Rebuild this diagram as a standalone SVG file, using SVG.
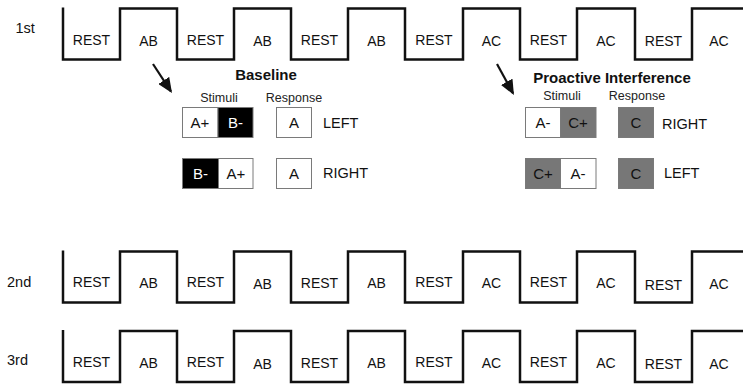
<svg xmlns="http://www.w3.org/2000/svg" width="743" height="385" viewBox="0 0 743 385">
  <style>
    text { font-family: "Liberation Sans", Arial, sans-serif; fill: #111; }
    .blk { font-size: 14px; text-anchor: middle; }
    .run { font-size: 14.5px; }
    .wave { fill: none; stroke: #111; stroke-width: 2.5; stroke-linejoin: miter; }
    .title { font-size: 15px; font-weight: bold; text-anchor: middle; }
    .sub { font-size: 12.5px; text-anchor: middle; fill: #222; }
    .cell { stroke: #7a7a7a; stroke-width: 1; }
    .w { fill: #fff; }
    .k { fill: #000; }
    .g { fill: #777; }
    .lab { font-size: 15px; text-anchor: middle; }
    .lab.inv { fill: #fff; }
    .resp { font-size: 14.5px; }
    .arrow { stroke: #111; stroke-width: 2.2; fill: none; marker-end: url(#head); }
  </style>
  <defs>
    <marker id="head" viewBox="0 0 15 13" refX="13" refY="6.5" markerWidth="15" markerHeight="13" orient="auto" markerUnits="userSpaceOnUse">
      <path d="M0,0 L15,6.5 L0,13 z" fill="#111"/>
    </marker>
    <path id="wavePath" d="M63,0 V52 H120 V1 H177 V52 H234 V1 H291 V52 H348 V1 H405 V52 H463 V1 H520 V52 H577 V1 H635 V52 H692 V1 H745"/>
  </defs>

  <rect width="743" height="385" fill="#fff"/>

  <!-- Run 1 -->
  <g id="run1">
    <text class="run" x="15.5" y="33">1st</text>
    <use href="#wavePath" class="wave" transform="translate(0,7.5)"/>
    <g class="blk">
      <text x="91.5" y="45">REST</text><text x="148.5" y="46">AB</text>
      <text x="205.5" y="45">REST</text><text x="262.5" y="46">AB</text>
      <text x="319.5" y="45">REST</text><text x="376.5" y="46">AB</text>
      <text x="434" y="45">REST</text><text x="491.5" y="46">AC</text>
      <text x="548.5" y="45">REST</text><text x="606" y="46">AC</text>
      <text x="663.5" y="46">REST</text><text x="719" y="46">AC</text>
    </g>
  </g>

  <!-- Run 2 -->
  <g id="run2">
    <text class="run" x="7" y="287">2nd</text>
    <use href="#wavePath" class="wave" transform="translate(0,250.5)"/>
    <g class="blk">
      <text x="91.5" y="287">REST</text><text x="148.5" y="288">AB</text>
      <text x="205.5" y="287">REST</text><text x="262.5" y="289">AB</text>
      <text x="319.5" y="288">REST</text><text x="376.5" y="288">AB</text>
      <text x="434" y="287">REST</text><text x="491.5" y="288">AC</text>
      <text x="548.5" y="287">REST</text><text x="606" y="288">AC</text>
      <text x="663.5" y="290">REST</text><text x="719" y="289">AC</text>
    </g>
  </g>

  <!-- Run 3 -->
  <g id="run3">
    <text class="run" x="7" y="365">3rd</text>
    <use href="#wavePath" class="wave" transform="translate(0,330)"/>
    <g class="blk">
      <text x="91.5" y="367">REST</text><text x="148.5" y="368">AB</text>
      <text x="205.5" y="367">REST</text><text x="262.5" y="369">AB</text>
      <text x="319.5" y="368">REST</text><text x="376.5" y="368">AB</text>
      <text x="434" y="367">REST</text><text x="491.5" y="368">AC</text>
      <text x="548.5" y="367">REST</text><text x="606" y="368">AC</text>
      <text x="663.5" y="369">REST</text><text x="719" y="369">AC</text>
    </g>
  </g>

  <!-- Connectors from trial blocks to their conditions -->
  <g id="connectors">
    <line class="arrow" x1="153" y1="64" x2="170.9" y2="91.3"/>
    <line class="arrow" x1="497" y1="64" x2="513" y2="93.2"/>
  </g>

  <!-- Baseline condition -->
  <g id="baseline">
    <text class="title" x="266" y="80">Baseline</text>
    <text class="sub" x="219" y="102">Stimuli</text>
    <text class="sub" x="294" y="102">Response</text>
    <rect class="cell w" x="182.5" y="107.5" width="35.5" height="30"/>
    <rect class="cell k" x="218" y="107.5" width="35" height="30"/>
    <text class="lab" x="200" y="128">A+</text>
    <text class="lab inv" x="235.5" y="128">B-</text>
    <rect class="cell w" x="276.5" y="107.5" width="35" height="30"/>
    <text class="lab" x="294" y="128">A</text>
    <text class="resp" x="323" y="128">LEFT</text>

    <rect class="cell k" x="182.5" y="158.5" width="36" height="30"/>
    <rect class="cell w" x="218.5" y="158.5" width="34.5" height="30"/>
    <text class="lab inv" x="200.5" y="179">B-</text>
    <text class="lab" x="236" y="179">A+</text>
    <rect class="cell w" x="276.5" y="158.5" width="35" height="30"/>
    <text class="lab" x="294" y="179">A</text>
    <text class="resp" x="323" y="178">RIGHT</text>
  </g>

  <!-- Proactive interference condition -->
  <g id="proactive">
    <text class="title" x="612" y="83">Proactive Interference</text>
    <text class="sub" x="562" y="100">Stimuli</text>
    <text class="sub" x="637" y="100">Response</text>
    <rect class="cell w" x="525.5" y="107.5" width="35" height="30"/>
    <rect class="cell g" x="560.5" y="107.5" width="35.5" height="30"/>
    <text class="lab" x="543" y="128">A-</text>
    <text class="lab" x="578" y="128">C+</text>
    <rect class="cell g" x="618.5" y="107.5" width="35" height="30"/>
    <text class="lab" x="636" y="128">C</text>
    <text class="resp" x="662" y="129">RIGHT</text>

    <rect class="cell g" x="525.5" y="158.5" width="35" height="30"/>
    <rect class="cell w" x="560.5" y="158.5" width="35.5" height="30"/>
    <text class="lab" x="543" y="179">C+</text>
    <text class="lab" x="578" y="179">A-</text>
    <rect class="cell g" x="618.5" y="158.5" width="35" height="30"/>
    <text class="lab" x="636" y="179">C</text>
    <text class="resp" x="664" y="178">LEFT</text>
  </g>
</svg>
